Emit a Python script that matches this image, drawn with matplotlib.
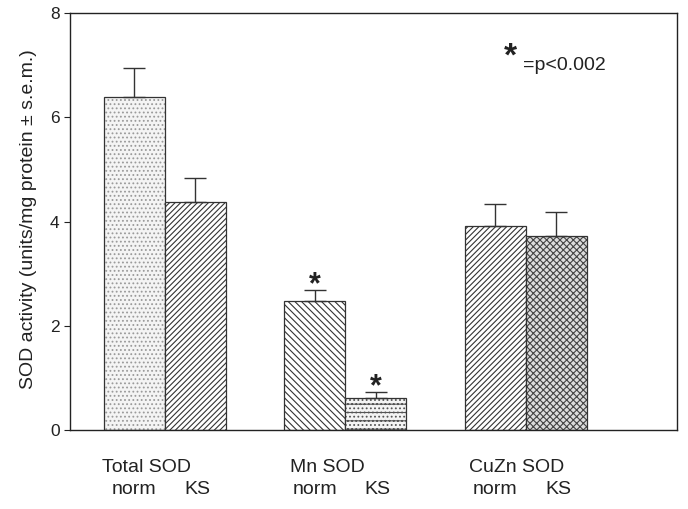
import numpy as np
import matplotlib
matplotlib.use("Agg")
import matplotlib.pyplot as plt

plt.rcParams['font.family'] = ['Liberation Sans', 'DejaVu Sans']
plt.rcParams['hatch.linewidth'] = 0.8

groups = ["Total SOD", "Mn SOD", "CuZn SOD"]
norm_vals = [6.39, 2.47, 3.92]
norm_err = [0.56, 0.22, 0.42]
ks_vals = [4.38, 0.61, 3.72]
ks_err = [0.46, 0.12, 0.46]
starred = [(1, "norm"), (1, "ks")]

fig = plt.figure(figsize=(6.88, 5.09), dpi=100)
ax = fig.add_axes([70 / 688, 1 - 430 / 509, 607 / 688, 417 / 509])

x = np.arange(len(groups))
w = 0.338
norm_hatch = ["....", "\\\\\\\\\\", "//////"]
ks_hatch = ["//////", "--....", "xxxxx"]
norm_hcol = ["#9a9a9a", "#333333", "#333333"]
ks_hcol = ["#333333", "#555555", "#444444"]
norm_face = ["#f4f4f4", "white", "white"]
ks_face = ["white", "#f4f4f4", "#dcdcdc"]

for i in range(len(groups)):
    # hatch layer, then the outline on top
    ax.bar(x[i] - w / 2, norm_vals[i], w, color=norm_face[i], edgecolor=norm_hcol[i],
           hatch=norm_hatch[i], linewidth=0)
    ax.bar(x[i] - w / 2, norm_vals[i], w, fill=False, edgecolor="#333333", linewidth=0.9)
    ax.bar(x[i] + w / 2, ks_vals[i], w, color=ks_face[i], edgecolor=ks_hcol[i],
           hatch=ks_hatch[i], linewidth=0)
    ax.bar(x[i] + w / 2, ks_vals[i], w, fill=False, edgecolor="#333333", linewidth=0.9)

ax.errorbar(x - w / 2, norm_vals, yerr=[np.zeros(3), norm_err], fmt="none",
            ecolor="#333333", elinewidth=1, capsize=8, capthick=1)
ax.errorbar(x + w / 2, ks_vals, yerr=[np.zeros(3), ks_err], fmt="none",
            ecolor="#333333", elinewidth=1, capsize=8, capthick=1)

for gi, which in starred:
    if which == "norm":
        xs, top = x[gi] - w / 2, norm_vals[gi] + norm_err[gi]
    else:
        xs, top = x[gi] + w / 2, ks_vals[gi] + ks_err[gi]
    ax.text(xs, top - 0.2, "*", ha="center", va="bottom", fontsize=22,
            fontweight="bold", color="#222222")

ax.text(0.726, 0.895, "*", transform=ax.transAxes, ha="center", va="center",
        fontsize=24, fontweight="bold", color="#222222")
ax.text(0.746, 0.875, "=p<0.002", transform=ax.transAxes, ha="left", va="center",
        fontsize=14, color="#222222")

ax.set_xlim(-0.526, 2.837)
ax.set_ylim(0, 8)
ax.set_yticks([0, 2, 4, 6, 8])
ax.set_xticks([])
ax.tick_params(axis="y", direction="out", length=4, labelsize=12.5, colors="#222222")
for sp in ax.spines.values():
    sp.set_color("#222222")
    sp.set_linewidth(1)
ax.set_ylabel("SOD activity (units/mg protein ± s.e.m.)", fontsize=14,
              color="#222222")
ax.yaxis.set_label_coords(-0.054, 0.505)

label_shift = [-0.01, 0.03, 0.02]
for i, g in enumerate(groups):
    ax.text(x[i] - w + label_shift[i], -0.72, g, ha="left", va="center", fontsize=14,
            color="#222222")
    ax.text(x[i] - w / 2, -1.15, "norm", ha="center", va="center",
            fontsize=14, color="#222222")
    ax.text(x[i] + w / 2 + 0.01, -1.15, "KS", ha="center", va="center",
            fontsize=14, color="#222222")

fig.savefig("out.png", dpi=100)
